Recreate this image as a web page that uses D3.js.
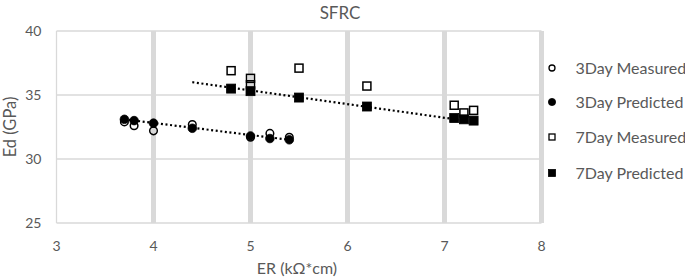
<!DOCTYPE html>
<html><head><meta charset="utf-8">
<script src="https://cdn.jsdelivr.net/npm/d3@7/dist/d3.min.js"></script>
<style>
body{margin:0;background:#fff;}
text{font-family:Lato,"Noto Sans",sans-serif;fill:#595959;}
</style></head>
<body><svg id="c" width="685" height="279"></svg>
<script>
const xTicks=[3,4,5,6,7,8];
const yTicks=[25,30,35,40];
const seriesNames=["3Day Measured","3Day Predicted","7Day Measured","7Day Predicted"];
const er3=[3.7,3.8,4.0,4.4,5.0,5.2,5.4];
const ed3Measured=[32.9,32.6,32.2,32.7,31.7,32.0,31.7];
const ed3Predicted=[33.1,33.0,32.8,32.4,31.8,31.6,31.5];
const er7Measured=[4.8,5.0,5.0,5.5,6.2,7.1,7.2,7.3];
const ed7Measured=[36.9,36.3,35.8,37.1,35.7,34.2,33.6,33.8];
const er7Predicted=[4.8,5.0,5.5,6.2,7.1,7.2,7.3];
const ed7Predicted=[35.5,35.3,34.8,34.1,33.2,33.1,33.0];
const trend3=[[3.7,33.1],[5.4,31.5]];
const trend7=[[4.4,36.0],[7.3,32.9]];

const svg=d3.select("#c");
const L=56.5,R=541.5,T=31,B=223;
const x=d3.scaleLinear().domain([3,8]).range([L,R]);
const y=d3.scaleLinear().domain([25,40]).range([B,T]);
const grid="#d9d9d9";

// horizontal grid
svg.append("g").selectAll("line").data(yTicks).join("line")
 .attr("x1",L).attr("x2",R).attr("y1",d=>y(d)).attr("y2",d=>y(d))
 .attr("stroke",grid).attr("stroke-width",1.3);
// left axis line
svg.append("line").attr("x1",x(3)).attr("x2",x(3)).attr("y1",T).attr("y2",B).attr("stroke",grid).attr("stroke-width",1.3);
// thick vertical grid
svg.append("g").selectAll("line").data(xTicks.slice(1)).join("line")
 .attr("x1",d=>x(d)).attr("x2",d=>x(d)).attr("y1",T).attr("y2",B)
 .attr("stroke",grid).attr("stroke-width",5);

// tick labels
svg.append("g").selectAll("text").data(yTicks).join("text")
 .attr("x",41.5).attr("y",d=>y(d)+5).attr("text-anchor","end").attr("font-size",14).text(d=>d);
svg.append("g").selectAll("text").data(xTicks).join("text")
 .attr("x",d=>x(d)).attr("y",250.5).attr("text-anchor","middle").attr("font-size",14).text(d=>d);

// titles
svg.append("text").attr("x",340).attr("y",19).attr("text-anchor","middle").attr("font-size",17).text("SFRC");
svg.append("text").attr("x",297).attr("y",273.5).attr("text-anchor","middle").attr("font-size",16).text("ER (kΩ*cm)");
svg.append("text").attr("transform","translate(15.5,"+(y(32.5))+") rotate(-90)").attr("text-anchor","middle").attr("font-size",16.5).text("Ed (GPa)");

// trendlines
const line=d3.line().x(d=>x(d[0])).y(d=>y(d[1]));
[trend3,trend7].forEach(t=>{
 svg.append("path").attr("d",line(t)).attr("stroke","#000").attr("stroke-width",2.2)
  .attr("stroke-dasharray","2,2.6").attr("fill","none");
});

// markers
function circles(xs,ys,filled){
 svg.append("g").selectAll("circle").data(xs).join("circle")
  .attr("cx",d=>x(d)).attr("cy",(d,i)=>y(ys[i])).attr("r",filled?4.3:3.8)
  .attr("fill",filled?"#000":"none").attr("stroke","#000").attr("stroke-width",filled?0.8:1.5);
}
function squares(xs,ys,filled){
 const s=filled?9:8;
 svg.append("g").selectAll("rect").data(xs).join("rect")
  .attr("x",d=>x(d)-s/2).attr("y",(d,i)=>y(ys[i])-s/2).attr("width",s).attr("height",s)
  .attr("fill",filled?"#000":"none").attr("stroke","#000").attr("stroke-width",filled?0.8:1.5);
}
circles(er3,ed3Measured,false);
circles(er3,ed3Predicted,true);
squares(er7Measured,ed7Measured,false);
squares(er7Predicted,ed7Predicted,true);

// legend
const ly=[68,102,137,173];
const lg=svg.append("g");
seriesNames.forEach((n,i)=>{
 const cx=552,cy=ly[i];
 if(i<2){
  lg.append("circle").attr("cx",cx).attr("cy",cy).attr("r",i==0?3:3.6)
   .attr("fill",i==1?"#000":"none").attr("stroke","#000").attr("stroke-width",i==0?1.3:0.8);
 } else {
  const s=i==2?6:7;
  lg.append("rect").attr("x",cx-s/2).attr("y",cy-s/2).attr("width",s).attr("height",s)
   .attr("fill",i==3?"#000":"none").attr("stroke","#000").attr("stroke-width",i==2?1.3:0.8);
 }
 lg.append("text").attr("x",575.5).attr("y",cy+5.5).attr("font-size",16).text(n);
});
</script></body></html>
